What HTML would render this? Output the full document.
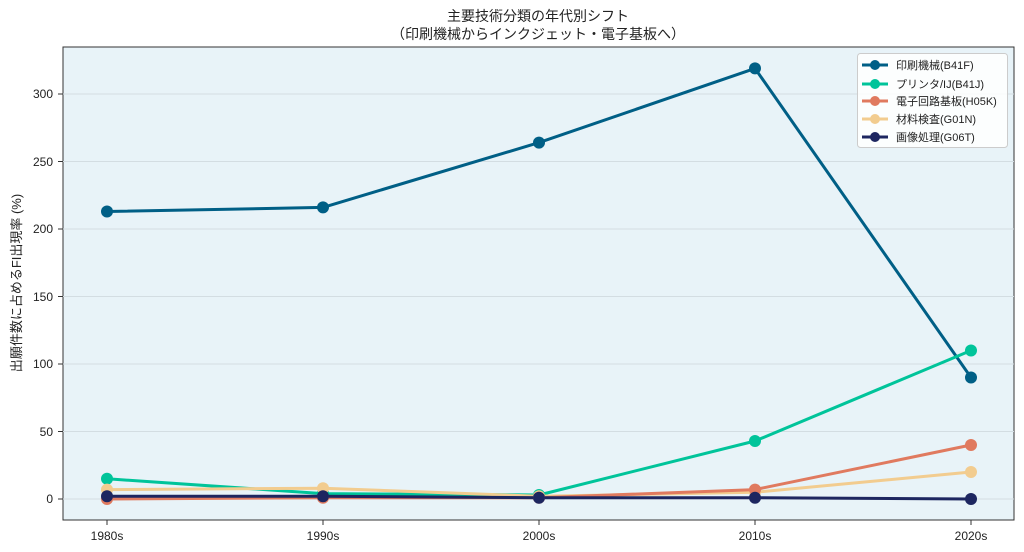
<!DOCTYPE html><html><head><meta charset="utf-8"><style>body{margin:0;background:#fff}svg{display:block;font-family:"Liberation Sans","Noto Sans CJK JP",sans-serif}</style></head><body>
<svg width="1024" height="552" viewBox="0 0 1024 552">
<rect width="1024" height="552" fill="#fff"/>
<text x="538" y="21" font-size="14" text-anchor="middle" fill="#222">主要技術分類の年代別シフト</text>
<text x="538" y="39" font-size="14" text-anchor="middle" fill="#222">（印刷機械からインクジェット・電子基板へ）</text>
<rect x="63" y="47" width="951" height="473" fill="#e8f3f8" stroke="#333" stroke-width="1"/>
<g stroke="#d3dde2" stroke-width="1">
<line x1="63" x2="1014" y1="499" y2="499"/><line x1="63" x2="1014" y1="431.5" y2="431.5"/><line x1="63" x2="1014" y1="364" y2="364"/><line x1="63" x2="1014" y1="296.5" y2="296.5"/><line x1="63" x2="1014" y1="229" y2="229"/><line x1="63" x2="1014" y1="161.5" y2="161.5"/><line x1="63" x2="1014" y1="94" y2="94"/></g>
<g font-size="12" fill="#222" text-anchor="end">
<text x="53" y="503">0</text><text x="53" y="436">50</text><text x="53" y="368">100</text><text x="53" y="301">150</text><text x="53" y="233">200</text><text x="53" y="166">250</text><text x="53" y="98">300</text></g>
<g stroke="#333"><line x1="58" x2="63" y1="499" y2="499"/><line x1="58" x2="63" y1="431.5" y2="431.5"/><line x1="58" x2="63" y1="364" y2="364"/><line x1="58" x2="63" y1="296.5" y2="296.5"/><line x1="58" x2="63" y1="229" y2="229"/><line x1="58" x2="63" y1="161.5" y2="161.5"/><line x1="58" x2="63" y1="94" y2="94"/>
<line x1="107" x2="107" y1="520" y2="525"/><line x1="323" x2="323" y1="520" y2="525"/><line x1="539" x2="539" y1="520" y2="525"/><line x1="755" x2="755" y1="520" y2="525"/><line x1="971" x2="971" y1="520" y2="525"/></g>
<g font-size="12" fill="#222" text-anchor="middle">
<text x="107" y="540">1980s</text><text x="323" y="540">1990s</text><text x="539" y="540">2000s</text><text x="755" y="540">2010s</text><text x="971" y="540">2020s</text></g>
<text transform="translate(21,283) rotate(-90)" font-size="13" text-anchor="middle" fill="#222">出願件数に占めるFI出現率 (%)</text>
<g fill="none" stroke-width="3" stroke-linejoin="round">
<polyline stroke="#005f86" points="107,211.5 323,207.4 539,142.6 755,68.4 971,377.5"/>
<polyline stroke="#00c49a" points="107,478.8 323,493.6 539,495 755,441 971,350.5"/>
<polyline stroke="#f2cc8f" points="107,489.6 323,488.2 539,496.3 755,492.3 971,472"/>
<polyline stroke="#e07a5f" points="107,499 323,497.7 539,497.7 755,489.6 971,445"/>
<polyline stroke="#1d2660" points="107,496.3 323,496.3 539,497.7 755,497.7 971,499"/>
</g>
<g fill="#005f86"><circle cx="107" cy="211.5" r="6"/><circle cx="323" cy="207.4" r="6"/><circle cx="539" cy="142.6" r="6"/><circle cx="755" cy="68.4" r="6"/><circle cx="971" cy="377.5" r="6"/></g>
<g fill="#00c49a"><circle cx="107" cy="478.8" r="6"/><circle cx="323" cy="493.6" r="6"/><circle cx="539" cy="495" r="6"/><circle cx="755" cy="441" r="6"/><circle cx="971" cy="350.5" r="6"/></g>
<g fill="#f2cc8f"><circle cx="107" cy="489.6" r="6"/><circle cx="323" cy="488.2" r="6"/><circle cx="539" cy="496.3" r="6"/><circle cx="755" cy="492.3" r="6"/><circle cx="971" cy="472" r="6"/></g>
<g fill="#e07a5f"><circle cx="107" cy="499" r="6"/><circle cx="323" cy="497.7" r="6"/><circle cx="539" cy="497.7" r="6"/><circle cx="755" cy="489.6" r="6"/><circle cx="971" cy="445" r="6"/></g>
<g fill="#1d2660"><circle cx="107" cy="496.3" r="6"/><circle cx="323" cy="496.3" r="6"/><circle cx="539" cy="497.7" r="6"/><circle cx="755" cy="497.7" r="6"/><circle cx="971" cy="499" r="6"/></g>
<rect x="857.5" y="53.5" width="150" height="94" rx="3" fill="#fff" fill-opacity="0.85" stroke="#ccc"/>
<g stroke-width="3">
<line x1="862" x2="888" y1="65" y2="65" stroke="#005f86"/><circle cx="875" cy="65" r="5" fill="#005f86"/>
<line x1="862" x2="888" y1="84" y2="84" stroke="#00c49a"/><circle cx="875" cy="84" r="5" fill="#00c49a"/>
<line x1="862" x2="888" y1="101" y2="101" stroke="#e07a5f"/><circle cx="875" cy="101" r="5" fill="#e07a5f"/>
<line x1="862" x2="888" y1="119" y2="119" stroke="#f2cc8f"/><circle cx="875" cy="119" r="5" fill="#f2cc8f"/>
<line x1="862" x2="888" y1="137" y2="137" stroke="#1d2660"/><circle cx="875" cy="137" r="5" fill="#1d2660"/></g>
<g font-size="11" fill="#222">
<text x="896" y="69">印刷機械(B41F)</text><text x="896" y="88">プリンタ/IJ(B41J)</text><text x="896" y="105">電子回路基板(H05K)</text><text x="896" y="123">材料検査(G01N)</text><text x="896" y="141">画像処理(G06T)</text></g>
</svg></body></html>
